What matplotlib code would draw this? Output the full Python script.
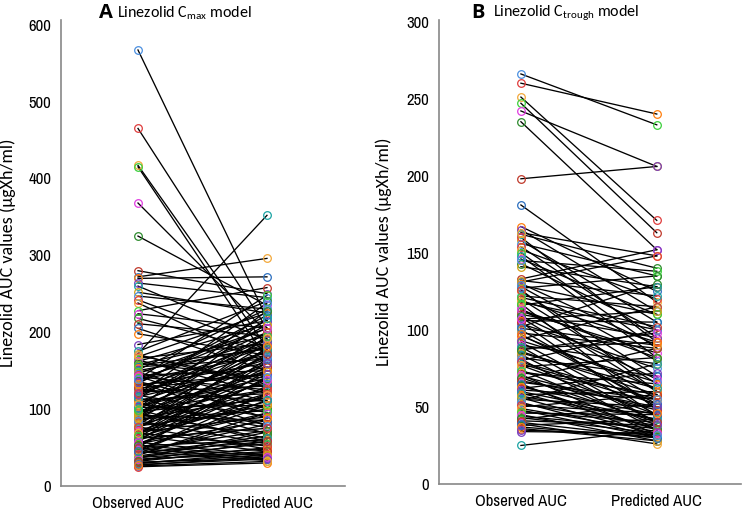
import matplotlib
matplotlib.use("Agg")
import matplotlib.pyplot as plt

# ---------------- data ----------------
x_labels = ["Observed AUC", "Predicted AUC"]

# Panel A: Linezolid Cmax model (observed, predicted) pairs
a_observed = [567, 465, 417, 415, 368, 325, 280, 272, 270, 264, 260, 252, 247, 242, 238,
              228, 224, 218, 211, 205, 198, 184, 175, 172, 170, 168, 166, 164, 162, 160,
              158, 155, 153, 151, 150, 148, 146, 144, 142, 140, 138, 136, 134, 132, 130,
              128, 126, 124, 122, 120, 118, 116, 114, 112, 110, 108, 106, 104, 102, 100,
              98, 96, 94, 92, 90, 88, 86, 84, 82, 80, 78, 76, 74, 72, 70,
              68, 66, 64, 62, 60, 58, 56, 54, 52, 50, 48, 46, 44, 42, 40,
              38, 36, 34, 32, 30, 28, 26, 25, 171, 157, 143, 137, 127, 117, 109,
              103, 97, 91, 87, 83, 79, 75, 71, 67, 63, 59, 55, 51, 47, 45,
              43, 41, 39, 37, 35, 33, 31, 29, 27, 135, 115, 95, 85, 77, 69,
              65, 57, 53, 49, 45, 133, 119, 101, 89, 139, 121, 107, 99]
a_predicted = [218, 205, 180, 165, 200, 235, 250, 296, 272, 245, 190, 225, 230, 180, 160,
               258, 205, 175, 195, 150, 170, 215, 240, 352, 135, 225, 185, 120, 210, 140,
               195, 165, 110, 230, 180, 100, 205, 150, 125, 190, 170, 95, 215, 145, 160,
               185, 110, 200, 130, 175, 90, 155, 210, 120, 165, 80, 190, 140, 105, 175,
               125, 150, 200, 85, 160, 115, 185, 135, 70, 170, 100, 145, 195, 120, 90,
               155, 180, 110, 75, 140, 165, 95, 130, 60, 150, 105, 120, 80, 65, 95,
               55, 70, 45, 50, 40, 35, 32, 30, 128, 178, 88, 205, 145, 192, 132,
               168, 112, 178, 98, 150, 125, 172, 105, 138, 160, 118, 85, 142, 72, 112,
               58, 88, 62, 48, 42, 58, 36, 44, 38, 78, 68, 62, 55, 48, 52,
               45, 40, 38, 35, 33, 222, 238, 228, 218, 248, 182, 76, 58]

# Panel B: Linezolid Ctrough model (observed, predicted) pairs
b_observed = [266, 260, 251, 247, 242, 235, 198, 181, 167, 165, 162, 158, 156, 154, 152,
              150, 146, 143, 133, 131, 130, 128, 127, 125, 122, 120, 118, 116, 114, 112,
              110, 108, 106, 104, 102, 100, 98, 96, 94, 92, 90, 88, 86, 84, 82,
              80, 78, 76, 74, 72, 70, 68, 66, 64, 62, 60, 58, 56, 55, 54,
              52, 50, 48, 46, 44, 42, 40, 38, 36, 34, 25, 132, 129, 126, 119,
              117, 113, 109, 105, 101, 97, 93, 89, 85, 81, 79, 77, 73, 71, 69,
              67, 65, 63, 61, 59, 57, 53, 51, 49, 47, 45, 43, 41, 39, 37,
              35, 148, 141, 145, 160, 163, 121, 107, 87]
b_predicted = [233, 240, 171, 163, 206, 152, 206, 118, 125, 112, 140, 105, 135, 95, 120,
               88, 110, 100, 152, 148, 90, 80, 135, 70, 115, 65, 100, 128, 60, 85,
               95, 55, 105, 75, 130, 50, 88, 62, 115, 45, 78, 92, 58, 40, 70,
               100, 52, 82, 38, 65, 48, 88, 55, 35, 72, 42, 60, 32, 50, 78,
               38, 58, 30, 45, 36, 52, 30, 42, 28, 33, 35, 122, 110, 60, 92,
               48, 82, 68, 44, 90, 52, 66, 40, 62, 35, 55, 45, 58, 32, 40,
               50, 30, 45, 55, 36, 42, 30, 46, 34, 40, 28, 33, 38, 26, 30,
               32, 82, 128, 138, 92, 148, 102, 112, 98]

marker_colors = ["#4a8fe0", "#e03c3c", "#f2a83a", "#3ccf3c", "#e03ce0", "#2e8b2e",
                 "#c0392b", "#2c6fbf", "#ff7f0e", "#7a3fbf", "#1aa3a3", "#d4a017"]

# ---------------- style ----------------
tick_font = ["Archivo Narrow", "Roboto Condensed", "DejaVu Sans"]
label_font = ["Carlito", "Open Sans", "DejaVu Sans"]
plt.rcParams["mathtext.fontset"] = "custom"
plt.rcParams["mathtext.rm"] = "Carlito"
plt.rcParams["mathtext.it"] = "Carlito"

fig = plt.figure(figsize=(7.42, 5.14), dpi=100)

W, H = 742.0, 514.0

def make_axes(left_px, right_px, top_px, bottom_px):
    return fig.add_axes([left_px / W, 1 - bottom_px / H,
                         (right_px - left_px) / W, (bottom_px - top_px) / H])

def draw_panel(ax, obs, pred, ymax, ystep, xlim):
    for o, p in zip(obs, pred):
        ax.plot([1, 2], [o, p], color="black", lw=0.95, zorder=2)
    for i, (o, p) in enumerate(zip(obs, pred)):
        c = marker_colors[i % len(marker_colors)]
        ax.plot([1], [o], marker="o", ms=5.5, mfc="none", mec=c, mew=0.9, ls="none", zorder=3)
        c2 = marker_colors[(i * 5 + 3) % len(marker_colors)]
        ax.plot([2], [p], marker="o", ms=5.5, mfc="none", mec=c2, mew=0.9, ls="none", zorder=3)
    ax.set_xlim(*xlim)
    ax.set_ylim(0, ymax)
    ax.set_yticks(range(0, ymax + 1, ystep))
    ax.set_xticks([1, 2])
    ax.set_xticklabels(x_labels)
    for s in ["top", "right"]:
        ax.spines[s].set_visible(False)
    for s in ["left", "bottom"]:
        ax.spines[s].set_color("#888888")
        ax.spines[s].set_linewidth(1.2)
    ax.tick_params(length=0, pad=7)
    for lab in ax.get_xticklabels() + ax.get_yticklabels():
        lab.set_fontfamily(tick_font)
        lab.set_fontsize(12)
    ax.set_ylabel("Linezolid AUC values (\u00b5gXh/ml)", fontfamily=label_font, fontsize=13)

# Panel A
axA = make_axes(61, 345, 20, 486)
draw_panel(axA, a_observed, a_predicted, 600, 100, (0.403, 2.605))
axA.set_ylim(0, 606)
axA.yaxis.set_label_coords(-0.16, 0.5)

# Panel B
axB = make_axes(439, 741, 20, 484)
draw_panel(axB, b_observed, b_predicted, 300, 50, (0.397, 2.62))
axB.set_ylim(0, 301)
axB.yaxis.set_label_coords(-0.157, 0.5)

# Titles
fig.text(99 / W, 1 - 13 / H, "A", fontfamily=["Open Sans", "DejaVu Sans"], fontweight="bold",
         fontsize=14.5, va="center", ha="left")
fig.text(117 / W, 1 - 13 / H, r"Linezolid C$_{\mathrm{max}}$ model", fontfamily=label_font,
         fontsize=11.5, va="center", ha="left")
fig.text(471 / W, 1 - 13 / H, "B", fontfamily=["Open Sans", "DejaVu Sans"], fontweight="bold",
         fontsize=14.5, va="center", ha="left")
fig.text(493 / W, 1 - 13 / H, r"Linezolid C$_{\mathrm{trough}}$ model", fontfamily=label_font,
         fontsize=11.5, va="center", ha="left")

fig.savefig("out.png", dpi=100)
